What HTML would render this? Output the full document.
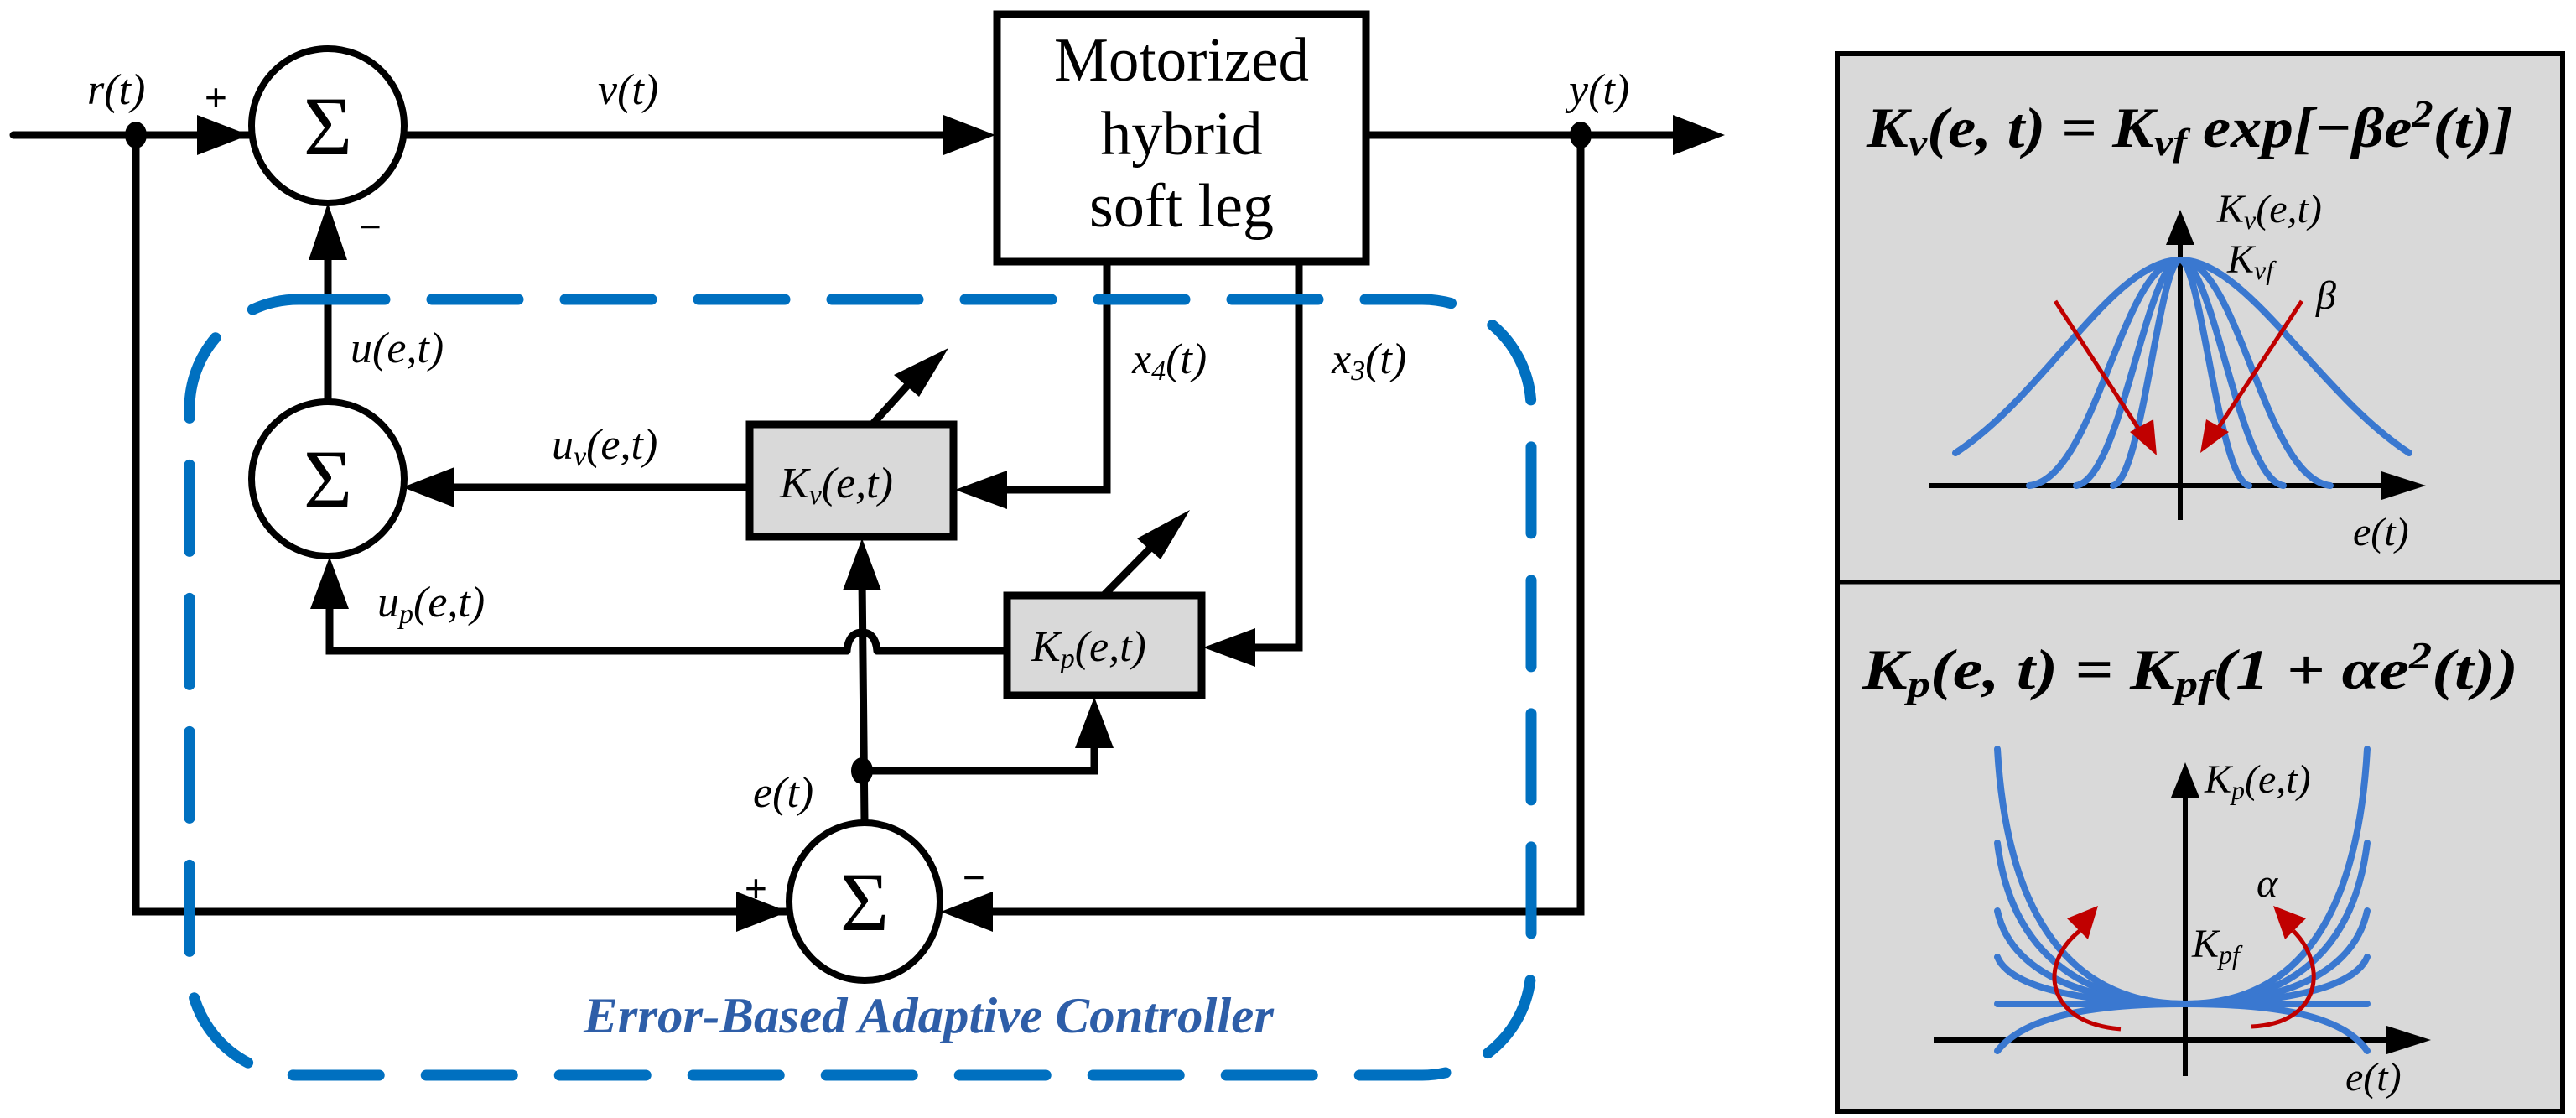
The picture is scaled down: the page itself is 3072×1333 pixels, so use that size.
<!DOCTYPE html>
<html><head><meta charset="utf-8"><style>html,body{margin:0;padding:0;background:#fff}svg{display:block}
.s{font-family:"Liberation Serif","Times New Roman",Times,"DejaVu Serif",serif}
.i{font-family:"Liberation Serif","Times New Roman",Times,"DejaVu Serif",serif;font-style:italic}
.b{font-family:"Liberation Serif","Times New Roman",Times,"DejaVu Serif",serif;font-style:italic;font-weight:bold}
.sa{font-family:"Liberation Sans",Arial,sans-serif}
</style></head><body>
<svg width="3072" height="1333" viewBox="0 0 3072 1333" xmlns="http://www.w3.org/2000/svg">
<rect width="3072" height="1333" fill="#fff"/>
<g stroke="#000" stroke-width="9" fill="none" stroke-linecap="round">
<line x1="16" y1="161" x2="300" y2="161"/>
<line x1="481" y1="161" x2="1140" y2="161"/>
<line x1="1629" y1="161" x2="2000" y2="161"/>
<polyline points="162,161 162,1087 960,1087"/>
<polyline points="1885,161 1885,1087 1180,1087"/>
<line x1="391" y1="479" x2="391" y2="290"/>
<polyline points="1320,312 1320,584 1190,584"/>
<polyline points="1549,312 1549,772 1490,772"/>
<line x1="894" y1="581" x2="530" y2="581"/>
<polyline points="1201,776 1046,776"/>
<path d="M1046,776 q-2,-22 -18,-22 q-16,0 -18,22"/>
<polyline points="1010,776 393,776 393,715"/>
<line x1="1031" y1="981" x2="1028" y2="690"/>
<polyline points="1028,919 1305,919 1305,880"/>
<line x1="1042" y1="504" x2="1100" y2="440"/>
<line x1="1316" y1="710" x2="1390" y2="635"/>
</g>
<rect x="1189" y="17" width="440" height="295" fill="#fff" stroke="#000" stroke-width="9"/>
<g class="s" font-size="74" text-anchor="middle">
<text x="1409" y="96" textLength="304" lengthAdjust="spacingAndGlyphs">Motorized</text>
<text x="1409" y="184">hybrid</text>
<text x="1409" y="270">soft leg</text>
</g>
<rect x="894" y="506" width="243" height="134" fill="#d9d9d9" stroke="#000" stroke-width="9"/>
<rect x="1201" y="710" width="232" height="119" fill="#d9d9d9" stroke="#000" stroke-width="9"/>
<g fill="#fff" stroke="#000" stroke-width="8">
<ellipse cx="391" cy="150" rx="91" ry="92"/>
<ellipse cx="391" cy="571" rx="91" ry="92"/>
<ellipse cx="1031" cy="1075" rx="90" ry="94"/>
</g>
<g class="s" font-size="100" text-anchor="middle">
<text x="391" y="184">Σ</text>
<text x="391" y="605">Σ</text>
<text x="1031" y="1109">Σ</text>
</g>
<g fill="#000">
<polygon points="297,161 235,137 235,185"/>
<polygon points="1187,161 1125,137 1125,185"/>
<polygon points="2057,161 1995,137 1995,185"/>
<polygon points="391,242 368,310 414,310"/>
<polygon points="480,581 542,557 542,605"/>
<polygon points="1139,584 1201,561 1201,607"/>
<polygon points="1435,772 1497,749 1497,795"/>
<polygon points="393,664 370,726 416,726"/>
<polygon points="1028,642 1005,704 1051,704"/>
<polygon points="1305,831 1282,892 1328,892"/>
<polygon points="940,1087 878,1063 878,1111"/>
<polygon points="1122,1087 1184,1063 1184,1111"/>
<polygon points="1131,415 1066,447 1096,473"/>
<polygon points="1419,608 1356,642 1384,667"/>
<ellipse cx="162" cy="161" rx="13" ry="16"/>
<ellipse cx="1885" cy="161" rx="13" ry="16"/>
<ellipse cx="1028" cy="919" rx="13" ry="16"/>
</g>
<g class="sa" font-size="46">
<text x="244" y="132">+</text>
<text x="428" y="286">−</text>
<text x="888" y="1075">+</text>
<text x="1148" y="1062">−</text>
</g>
<g class="i" font-size="52">
<text x="104" y="124">r(t)</text>
<text x="713" y="124">v(t)</text>
<text x="1871" y="124">y(t)</text>
<text x="418" y="432">u(e,t)</text>
<text x="658" y="547">u<tspan font-size="34" dy="8">v</tspan><tspan dy="-8">(e,t)</tspan></text>
<text x="450" y="735">u<tspan font-size="34" dy="8">p</tspan><tspan dy="-8">(e,t)</tspan></text>
<text x="1350" y="445">x<tspan font-size="34" dy="8">4</tspan><tspan dy="-8">(t)</tspan></text>
<text x="1588" y="445">x<tspan font-size="34" dy="8">3</tspan><tspan dy="-8">(t)</tspan></text>
<text x="898" y="962">e(t)</text>
<text x="930" y="593">K<tspan font-size="34" dy="8">v</tspan><tspan dy="-8">(e,t)</tspan></text>
<text x="1230" y="788">K<tspan font-size="34" dy="8">p</tspan><tspan dy="-8">(e,t)</tspan></text>
</g>
<rect x="226" y="357" width="1600" height="925" rx="130" ry="130" fill="none" stroke="#0070c0" stroke-width="13" stroke-dasharray="103 56" stroke-linecap="round"/>
<text class="b" x="696" y="1231" textLength="823" lengthAdjust="spacingAndGlyphs" font-size="60" fill="#2e5ea8">Error-Based Adaptive Controller</text>

<rect x="2191" y="64" width="865" height="1261" fill="#d9d9d9" stroke="#000" stroke-width="6"/>
<line x1="2191" y1="694" x2="3056" y2="694" stroke="#000" stroke-width="5"/>
<g class="b" font-size="68">
<text x="2226" y="175" textLength="771" lengthAdjust="spacingAndGlyphs">K<tspan font-size="46" dy="10">v</tspan><tspan dy="-10">(e, t) = K</tspan><tspan font-size="46" dy="10">vf</tspan><tspan dy="-10"> exp[−βe</tspan><tspan font-size="46" dy="-24">2</tspan><tspan dy="24">(t)]</tspan></text>
<text x="2221" y="821" textLength="782" lengthAdjust="spacingAndGlyphs">K<tspan font-size="46" dy="10">p</tspan><tspan dy="-10">(e, t) = K</tspan><tspan font-size="46" dy="10">pf</tspan><tspan dy="-10">(1 + αe</tspan><tspan font-size="46" dy="-24">2</tspan><tspan dy="24">(t))</tspan></text>
</g>
<g stroke="#000" stroke-width="6" fill="none">
<line x1="2300" y1="579" x2="2860" y2="579"/>
<line x1="2600" y1="620" x2="2600" y2="290"/>
<line x1="2306" y1="1240" x2="2865" y2="1240"/>
<line x1="2606" y1="1283" x2="2606" y2="950"/>
</g>
<g fill="#000">
<polygon points="2893,579 2840,562 2840,596"/>
<polygon points="2600,250 2583,292 2617,292"/>
<polygon points="2899,1240 2846,1223 2846,1257"/>
<polygon points="2606,909 2589,951 2623,951"/>
</g>
<g stroke="#3a78d0" stroke-width="8" fill="none" stroke-linecap="round">
<path d="M2332,540 C2440,470 2520,310 2600,310 C2680,310 2765,470 2873,540"/>
<path d="M2420,579 C2500,570 2530,310 2600,310 C2670,310 2700,570 2779,579"/>
<path d="M2476,579 C2530,570 2560,310 2600,310 C2640,310 2670,570 2723,579"/>
<path d="M2520,579 C2555,570 2575,310 2600,310 C2625,310 2645,570 2682,579"/>
<path d="M2382,893 C2395,1120 2490,1197 2606,1197 C2722,1197 2810,1120 2823,893"/>
<path d="M2382,1005 C2400,1150 2500,1197 2606,1197 C2712,1197 2805,1150 2823,1005"/>
<path d="M2382,1086 C2400,1170 2510,1197 2606,1197 C2702,1197 2805,1170 2823,1086"/>
<path d="M2382,1141 C2400,1185 2520,1197 2606,1197 C2692,1197 2805,1185 2823,1141"/>
<path d="M2382,1197 L2823,1197"/>
<path d="M2382,1253 C2420,1205 2520,1197 2606,1197 C2692,1197 2790,1205 2823,1253"/>
</g>
<g stroke="#c00000" stroke-width="5" fill="none">
<line x1="2451" y1="359" x2="2560" y2="526"/>
<line x1="2745" y1="359" x2="2637" y2="523"/>
<path d="M2529,1227 C2440,1220 2430,1150 2480,1110"/>
<path d="M2685,1224 C2770,1220 2775,1150 2735,1110"/>
</g>
<g fill="#c00000">
<polygon points="2572,543 2540,515 2568,500"/>
<polygon points="2624,540 2631,500 2658,515"/>
<polygon points="2502,1080 2465,1095 2490,1120"/>
<polygon points="2711,1080 2725,1120 2750,1095"/>
</g>
<g class="i" font-size="48">
<text x="2644" y="265">K<tspan font-size="32" dy="8">v</tspan><tspan dy="-8">(e,t)</tspan></text>
<text x="2656" y="325">K<tspan font-size="32" dy="8">vf</tspan></text>
<text x="2762" y="368">β</text>
<text x="2806" y="650">e(t)</text>
<text x="2629" y="945">K<tspan font-size="32" dy="8">p</tspan><tspan dy="-8">(e,t)</tspan></text>
<text x="2691" y="1069">α</text>
<text x="2614" y="1141">K<tspan font-size="32" dy="8">pf</tspan></text>
<text x="2797" y="1300">e(t)</text>
</g>
</svg>
</body></html>
